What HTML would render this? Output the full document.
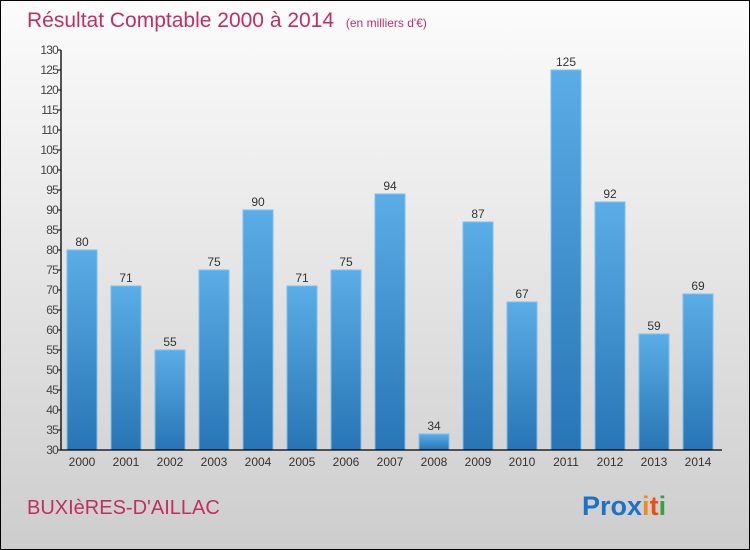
<!DOCTYPE html>
<html><head><meta charset="utf-8"><style>
body{margin:0;width:750px;height:550px;overflow:hidden;font-family:"Liberation Sans",sans-serif}
svg{display:block}
</style></head><body>
<svg id="chart" width="750" height="550" xmlns="http://www.w3.org/2000/svg">
<defs>
<linearGradient id="bg" x1="0" y1="0" x2="0" y2="1"><stop offset="0" stop-color="#fcfcfc"/><stop offset="1" stop-color="#cdcdcd"/></linearGradient>
<linearGradient id="bar" x1="0" y1="0" x2="0" y2="1"><stop offset="0" stop-color="#5aade6"/><stop offset="1" stop-color="#2875b5"/></linearGradient>
</defs>
<rect x="0.5" y="0.5" width="749" height="549" fill="url(#bg)" stroke="#000"/>
<text x="27" y="27" font-size="21" fill="#c0305f">Résultat Comptable 2000 à 2014 <tspan font-size="12" fill="#c0306f" dx="6">(en milliers d'€)</tspan></text>
<g id="bars"></g>
<g id="axes"></g>
<text x="27" y="514" font-size="20" fill="#c0305f">BUXIèRES-D'AILLAC</text>
<text x="582" y="515" font-size="27" font-weight="bold"><tspan fill="#1a73c9">Pro</tspan><tspan fill="#1a73c9">x</tspan><tspan fill="#f08a1a">i</tspan><tspan fill="#e8501a">t</tspan><tspan fill="#3aa040">i</tspan></text>
</svg>
<script>
const categories=["2000","2001","2002","2003","2004","2005","2006","2007","2008","2009","2010","2011","2012","2013","2014"];
const values=[80,71,55,75,90,71,75,94,34,87,67,125,92,59,69];
const ticks=[30,35,40,45,50,55,60,65,70,75,80,85,90,95,100,105,110,115,120,125,130];
const NS="http://www.w3.org/2000/svg";
const yMin=30,yMax=130,yTop=50,yBot=450,axisX=61;
function y(v){return yBot-(v-yMin)/(yMax-yMin)*(yBot-yTop);}
function xc(i){return 82+i*44;}
const bars=document.getElementById('bars'),axes=document.getElementById('axes');
function mk(tag,a,p){const e=document.createElementNS(NS,tag);for(const k in a)e.setAttribute(k,a[k]);p.appendChild(e);return e;}
values.forEach((v,i)=>{
 const r=mk('rect',{x:xc(i)-15,y:y(v),width:30,height:yBot-y(v),fill:'url(#bar)',stroke:'#7cc0ee','stroke-width':1},bars);
 
 
 const t=mk('text',{x:xc(i),y:y(v)-4,'font-size':12,'text-anchor':'middle',fill:'#333'},bars);
 t.textContent=v;
 
 
 const c=mk('text',{x:xc(i),y:466,'font-size':12,'text-anchor':'middle',fill:'#333'},axes);
 c.textContent=categories[i];
 
 
});
const ax=mk('path',{d:`M${axisX} ${yTop} V${yBot} H722`,stroke:'#000',fill:'none','stroke-width':1.3},axes);


ticks.forEach(t=>{
 mk('line',{x1:axisX-4,x2:axisX,y1:y(t),y2:y(t),stroke:'#000'},axes);
 const l=mk('text',{x:axisX-3,y:y(t)+4,'font-size':12,'text-anchor':'end',fill:'#444','letter-spacing':'-0.8'},axes);
 l.textContent=t;
 
 
});
</script>
</body></html>
